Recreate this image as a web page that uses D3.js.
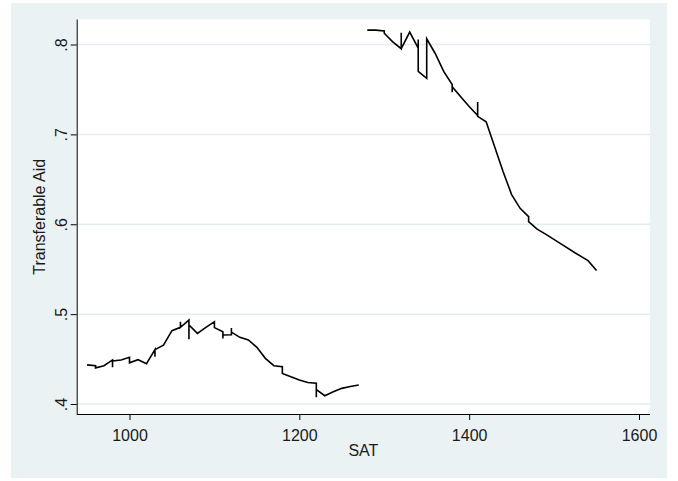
<!DOCTYPE html>
<html>
<head>
  <meta charset="utf-8">
  <script src="https://d3js.org/d3.v7.min.js"></script>
  <style>
    body { margin: 0; background: #ffffff; }
    text { font-family: "Liberation Sans", Arial, sans-serif; }
  </style>
</head>
<body>
<script type="text/javascript">
"use strict";

// SAT values below the cutoff (repeated values give the vertical jumps)
var satLow = [950, 960, 960, 970, 980, 980, 980, 990, 1000, 1000, 1010, 1020,
  1030, 1030, 1030, 1040, 1050, 1060, 1060, 1060, 1070, 1070, 1070, 1080,
  1090, 1100, 1100, 1110, 1110, 1110, 1120, 1120, 1120, 1130, 1140, 1150,
  1160, 1170, 1180, 1180, 1190, 1200, 1210, 1220, 1220, 1220, 1230, 1240,
  1250, 1260, 1270];
var aidLow = [.4435, .4425, .4402, .4426, .4490, .4410, .4478, .4490, .4520, .4458, .4493, .4448,
  .4605, .4526, .4605, .4655, .4816, .4853, .4916, .4853, .4934, .4720, .4880, .4786,
  .4853, .4916, .4850, .4804, .4730, .4768, .4770, .4845, .4800, .4742, .4712, .4630,
  .4508, .4426, .4415, .4340, .4304, .4267, .4240, .4230, .4074, .4160, .4092, .4137,
  .4174, .4195, .4211];

// SAT values above the cutoff
var satHigh = [1280, 1290, 1300, 1300, 1310, 1320, 1320, 1320, 1330, 1340, 1340, 1340,
  1350, 1350, 1360, 1370, 1380, 1380, 1380, 1390, 1400, 1410, 1410, 1410, 1420,
  1430, 1440, 1450, 1460, 1470, 1470, 1480, 1490, 1510, 1525, 1540, 1550];
var aidHigh = [.8160, .8160, .8150, .8125, .8030, .7953, .8130, .7953, .8138, .7960, .8057, .7700,
  .7623, .8064, .7900, .7700, .7555, .7470, .7530, .7418, .7310, .7210, .7360, .7200, .7140,
  .6862, .6584, .6330, .6177, .6085, .6030, .5945, .5890, .5770, .5680, .5595, .5485];

var xTicks = [1000, 1200, 1400, 1600];
var yTicks = [.4, .5, .6, .7, .8];
var yTickLabels = [".4", ".5", ".6", ".7", ".8"];

var width = 678, height = 481;

var svg = d3.select("body").append("svg")
  .attr("width", width)
  .attr("height", height);

// Graph region (light bluish gray, Stata s2color)
svg.append("rect")
  .attr("x", 11).attr("y", 3)
  .attr("width", 656).attr("height", 475)
  .attr("fill", "#eaf2f3");

// Scales pinned on the tick positions
var x = d3.scaleLinear().domain([1000, 1600]).range([129.5, 639]);
var y = d3.scaleLinear().domain([.4, .8]).range([404, 44.5]);

var plotLeft = 76.7, plotRight = 650, plotTop = 19.5, plotBottom = 414;

// Plot region
svg.append("rect")
  .attr("x", plotLeft).attr("y", plotTop)
  .attr("width", plotRight - plotLeft).attr("height", plotBottom - plotTop)
  .attr("fill", "#ffffff");

// Horizontal grid lines
svg.append("g")
  .selectAll("line")
  .data(yTicks)
  .join("line")
  .attr("x1", plotLeft).attr("x2", plotRight)
  .attr("y1", function(d) { return y(d); })
  .attr("y2", function(d) { return y(d); })
  .attr("stroke", "#e3ecee")
  .attr("stroke-width", 1.5);

// X axis
var xAxis = svg.append("g")
  .attr("transform", "translate(0," + plotBottom + ")")
  .call(d3.axisBottom(x).tickValues(xTicks).tickSize(6).tickPadding(10).tickFormat(d3.format("d")));
xAxis.select(".domain").attr("d", "M" + plotLeft + ",0.5H" + plotRight);
xAxis.selectAll("text").style("font-size", "16px").attr("fill", "#1a1a1a");

// Y axis with rotated labels
var yAxis = svg.append("g")
  .attr("transform", "translate(" + plotLeft + ",0)")
  .call(d3.axisLeft(y).tickValues(yTicks).tickSize(6)
    .tickFormat(function(d, i) { return yTickLabels[i]; }));
yAxis.select(".domain").attr("d", "M0.5," + plotTop + "V" + plotBottom);
yAxis.selectAll("text")
  .attr("x", null).attr("dy", null)
  .attr("text-anchor", "middle")
  .attr("transform", "translate(-10,0) rotate(-90)")
  .style("font-size", "16px")
  .attr("fill", "#1a1a1a");

// Axis titles
svg.append("text")
  .attr("x", (plotLeft + plotRight) / 2).attr("y", 456)
  .attr("text-anchor", "middle")
  .style("font-size", "16px")
  .attr("fill", "#1a1a1a")
  .text("SAT");

svg.append("text")
  .attr("transform", "translate(45," + (plotTop + plotBottom) / 2 + ") rotate(-90)")
  .attr("text-anchor", "middle")
  .style("font-size", "16px")
  .attr("fill", "#1a1a1a")
  .text("Transferable Aid");

// The two fitted lines
var line = d3.line()
  .x(function(d) { return x(d[0]); })
  .y(function(d) { return y(d[1]); });

[[satLow, aidLow], [satHigh, aidHigh]].forEach(function(s) {
  svg.append("path")
    .datum(d3.zip(s[0], s[1]))
    .attr("d", line)
    .attr("fill", "none")
    .attr("stroke", "#000000")
    .attr("stroke-width", 1.6);
});
</script>
</body>
</html>
